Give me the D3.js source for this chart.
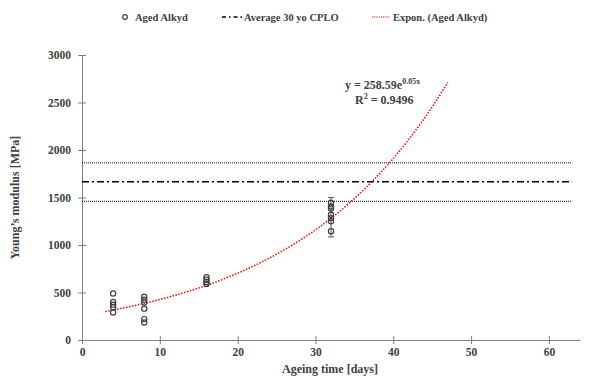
<!DOCTYPE html>
<html>
<head>
<meta charset="utf-8">
<script src="https://cdn.jsdelivr.net/npm/d3@7"></script>
<style>
  body { margin: 0; background: #fff; }
  text { font-family: "Liberation Serif", serif; font-weight: bold; fill: #404040; }
</style>
</head>
<body>
<svg id="chart" width="589" height="379"></svg>
<script>
// data
const days = [4, 8, 16, 32];
const modulus = [
  [490, 400, 372, 345, 290],
  [455, 425, 395, 330, 220, 185],
  [660, 635, 610, 590],
  [1445, 1405, 1385, 1318, 1283, 1250, 1145]
];
const errBar = { day: 32, low: 1085, high: 1500 };
const cploMean = 1665;
const cploBand = [1460, 1865];
const fitA = 258.59, fitB = 0.05;
const fitRange = [3, 47];
const xTicks = [0, 10, 20, 30, 40, 50, 60];
const yTicks = [0, 500, 1000, 1500, 2000, 2500, 3000];

const margin = { top: 55, right: 9, bottom: 39, left: 82 };
const W = 589, H = 379;
const font = "'Liberation Serif', serif";

const svg = d3.select("#chart");

const x = d3.scaleLinear().domain([0, 64]).range([margin.left, W - margin.right]);
const y = d3.scaleLinear().domain([0, 3000]).range([H - margin.bottom, margin.top]);

const axisColor = "#7f7f7f";

// x axis
const gx = svg.append("g")
    .attr("transform", "translate(0," + y(0) + ")")
    .call(d3.axisBottom(x).tickValues(xTicks).tickFormat(d3.format("d"))
      .tickSizeInner(4).tickSizeOuter(0).tickPadding(4));
gx.select(".domain").attr("stroke", axisColor);
gx.selectAll(".tick line").attr("stroke", axisColor).attr("y1", -4);
gx.selectAll(".tick text").attr("font-size", "11.5px").attr("fill", "#404040")
    .style("font-family", font).style("font-weight", "bold");

// y axis
const gy = svg.append("g")
    .attr("transform", "translate(" + x(0) + ",0)")
    .call(d3.axisLeft(y).tickValues(yTicks).tickFormat(d3.format("d"))
      .tickSizeInner(4).tickSizeOuter(0).tickPadding(7));
gy.select(".domain").attr("stroke", axisColor);
gy.selectAll(".tick line").attr("stroke", axisColor).attr("x1", 4);
gy.selectAll(".tick text").attr("font-size", "11.5px").attr("fill", "#404040")
    .style("font-family", font).style("font-weight", "bold");

// axis titles
svg.append("text")
    .attr("x", (x(0) + x(64)) / 2 - 1)
    .attr("y", 373)
    .attr("text-anchor", "middle")
    .attr("font-size", "12px")
    .text("Ageing time [days]");

svg.append("text")
    .attr("transform", "translate(19," + y(1500) + ") rotate(-90)")
    .attr("text-anchor", "middle")
    .attr("font-size", "12px")
    .text("Young\u2019s modulus [MPa]");

// CPLO reference lines
const lineEnd = x(63);
cploBand.forEach(function(v) {
  svg.append("line")
    .attr("x1", x(0)).attr("x2", lineEnd)
    .attr("y1", y(v)).attr("y2", y(v))
    .attr("stroke", "#000").attr("stroke-width", 1)
    .attr("stroke-dasharray", "1,1");
});
svg.append("line")
    .attr("x1", x(0)).attr("x2", lineEnd)
    .attr("y1", y(cploMean)).attr("y2", y(cploMean))
    .attr("stroke", "#000").attr("stroke-width", 1.5)
    .attr("stroke-dasharray", "7,3,2,3");

// error bar at 32 days
const eb = svg.append("g").attr("stroke", "#595959").attr("stroke-width", 1);
eb.append("line").attr("x1", x(errBar.day)).attr("x2", x(errBar.day))
  .attr("y1", y(errBar.low)).attr("y2", y(errBar.high));
[errBar.low, errBar.high].forEach(function(v) {
  eb.append("line").attr("x1", x(errBar.day) - 3).attr("x2", x(errBar.day) + 3)
    .attr("y1", y(v)).attr("y2", y(v));
});

// exponential trendline
const fitPts = d3.range(fitRange[0], fitRange[1] + 0.01, 0.25).map(function(d) {
  return [d, fitA * Math.exp(fitB * d)];
});
svg.append("path")
    .datum(fitPts)
    .attr("fill", "none")
    .attr("stroke", "#ff0000")
    .attr("stroke-width", 1.5)
    .attr("stroke-dasharray", "1.5,1.5")
    .attr("d", d3.line().x(d => x(d[0])).y(d => y(d[1])));

// data points
const pts = [];
days.forEach(function(d, i) {
  modulus[i].forEach(function(v) { pts.push({ day: d, val: v }); });
});
svg.append("g").selectAll("circle")
    .data(pts)
    .enter().append("circle")
    .attr("cx", d => x(d.day))
    .attr("cy", d => y(d.val))
    .attr("r", 2.6)
    .attr("fill", "none")
    .attr("stroke", "#404040")
    .attr("stroke-width", 1.2);

// equation label
svg.append("text")
    .attr("x", 345).attr("y", 89)
    .attr("font-size", "12px")
    .html("y = 258.59e<tspan font-size='8px' dy='-5'>0.05x</tspan>");
svg.append("text")
    .attr("x", 355).attr("y", 104)
    .attr("font-size", "12px")
    .html("R<tspan font-size='8px' dy='-5'>2</tspan><tspan dy='5'> = 0.9496</tspan>");

// legend
const lg = svg.append("g");
lg.append("circle").attr("cx", 125).attr("cy", 17).attr("r", 2.3)
  .attr("fill", "none").attr("stroke", "#404040").attr("stroke-width", 1.2);
lg.append("text").attr("x", 135).attr("y", 21).attr("font-size", "10.5px").text("Aged Alkyd");
lg.append("line").attr("x1", 222).attr("x2", 243).attr("y1", 17).attr("y2", 17)
  .attr("stroke", "#000").attr("stroke-width", 1.5).attr("stroke-dasharray", "4,3,1.5,3");
lg.append("text").attr("x", 244).attr("y", 21).attr("font-size", "10.5px").text("Average 30 yo CPLO");
lg.append("line").attr("x1", 372).attr("x2", 390).attr("y1", 17).attr("y2", 17)
  .attr("stroke", "#ff0000").attr("stroke-width", 1.2).attr("stroke-dasharray", "1.2,1");
lg.append("text").attr("x", 393).attr("y", 21).attr("font-size", "10.5px").text("Expon. (Aged Alkyd)");
</script>
</body>
</html>
